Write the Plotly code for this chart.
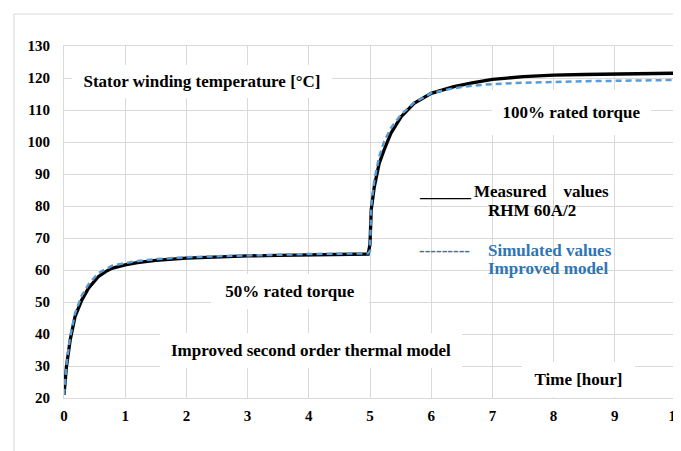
import plotly.graph_objects as go

# ---- data ----
time_h = [0, 0.04, 0.1, 0.18, 0.29, 0.4, 0.56, 0.68, 0.78, 0.9, 1.0, 1.2, 1.5, 2.0, 2.5, 3.0, 3.5, 4.0, 4.5,
          4.97, 5.0, 5.02, 5.07, 5.15, 5.23, 5.34, 5.51, 5.72, 6.0, 6.37, 6.67, 7.0, 7.5, 8.0, 8.5, 9.0, 9.5, 10.0]
measured = [21, 29.8, 38, 45.4, 50.6, 54.3, 57.9, 59.5, 60.5, 61.1, 61.6, 62.3, 63.0, 63.7, 64.1, 64.4, 64.6, 64.8, 64.9,
            65.0, 68.0, 78.8, 86.0, 93.3, 97.5, 102.7, 107.9, 112.1, 115.2, 117.3, 118.5, 119.6, 120.4, 120.9, 121.1, 121.3, 121.4, 121.5]
simulated = [21, 30.5, 39, 46.5, 52, 55.5, 59, 60.4, 61.3, 61.8, 62.2, 62.8, 63.4, 64.0, 64.3, 64.6, 64.8, 65.0, 65.1,
             65.2, 66.0, 80.0, 88.0, 95.5, 100.1, 104.3, 108.6, 112.3, 115.3, 116.8, 117.6, 118.1, 118.5, 118.8, 119.0, 119.1, 119.3, 119.4]

x_ticks = [0, 1, 2, 3, 4, 5, 6, 7, 8, 9, 10]
y_ticks = [20, 30, 40, 50, 60, 70, 80, 90, 100, 110, 120, 130]

FONT = "Liberation Serif, Times New Roman, serif"
GRID = "#d9d9d9"
BLUE_LINE = "#5B9BD5"
BLUE_TEXT = "#2E75B6"
TXT = 17

fig = go.Figure()
fig.add_trace(go.Scatter(x=time_h, y=measured, mode="lines",
                         line=dict(color="black", width=3.3), showlegend=False))
fig.add_trace(go.Scatter(x=time_h, y=simulated, mode="lines",
                         line=dict(color=BLUE_LINE, width=2.5, dash="6px,4px"), showlegend=False))

tickfont = dict(family=FONT, size=15, color="black", weight="bold")

# the page body adds an 8px offset, so the figure is 8px smaller and margins compensate
fig.update_layout(
    width=673, height=443,
    margin=dict(l=56, r=5, t=38, b=53),
    paper_bgcolor="white", plot_bgcolor="white",
    font=dict(family=FONT, size=15, color="black"),
    xaxis=dict(range=[0, 10], tickvals=x_ticks, ticktext=[str(v) for v in x_ticks],
               showgrid=True, gridcolor=GRID, gridwidth=1, zeroline=False,
               showline=True, linecolor=GRID, linewidth=1, mirror=True,
               ticks="", tickfont=tickfont, ticklabelstandoff=4, automargin=False,
               ticklabeloverflow="allow"),
    yaxis=dict(range=[20, 130], tickvals=y_ticks, ticktext=[str(v) for v in y_ticks],
               showgrid=True, gridcolor=GRID, gridwidth=1, zeroline=False,
               showline=True, linecolor=GRID, linewidth=1, mirror=True,
               ticks="", tickfont=tickfont, ticklabelstandoff=10, automargin=False),
)

# outer chart border
fig.add_shape(type="rect", xref="paper", yref="paper",
              x0=-0.0817, x1=1.05, y0=-0.25, y1=1.0909,
              line=dict(color=GRID, width=1), fillcolor="rgba(0,0,0,0)", layer="below")

# white box behind legend text
fig.add_shape(type="rect", xref="x", yref="y", x0=5.69, x1=9.84, y0=55.4, y1=88.2,
              line=dict(width=0), fillcolor="white", layer="below")

def box_label(text, x, y, w, h):
    fig.add_annotation(x=x, y=y, xref="x", yref="y", text=text, showarrow=False,
                       font=dict(family=FONT, size=TXT, color="black", weight="bold"),
                       bgcolor="white", width=w, height=h, borderpad=0, borderwidth=0,
                       xanchor="center", yanchor="middle", align="center")

box_label("Stator winding temperature [°C]", 2.26, 119.0, 260, 33)
box_label("100% rated torque", 8.30, 109.3, 159, 45)
box_label("50% rated torque", 3.70, 53.3, 158, 35)
box_label("Improved second order thermal model", 4.03, 34.9, 302, 35)
box_label("Time [hour]", 8.40, 25.9, 113, 35)

def leg_text(text, x, y, color):
    fig.add_annotation(x=x, y=y, xref="x", yref="y", text=text, showarrow=False,
                       font=dict(family=FONT, size=TXT, color=color, weight="bold"),
                       xanchor="left", yanchor="middle", align="left")

leg_text("______", 5.776, 84.5, "black")
leg_text("Measured\u00a0\u00a0\u00a0\u00a0values", 6.67, 84.5, "black")
leg_text("RHM 60A/2", 6.90, 78.5, "black")
leg_text("---------", 5.776, 66.0, BLUE_TEXT)
leg_text("Simulated values", 6.90, 66.0, BLUE_TEXT)
leg_text("Improved model", 6.90, 60.4, BLUE_TEXT)

fig.write_html("out.html")
